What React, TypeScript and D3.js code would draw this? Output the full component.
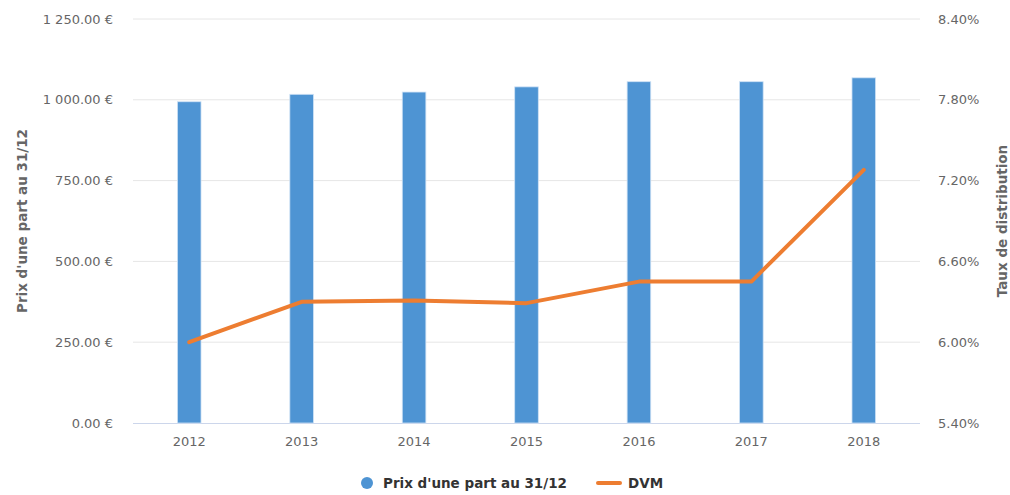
import * as d3 from 'd3';
import React from 'react';

const years = ['2012', '2013', '2014', '2015', '2016', '2017', '2018'];
const prixPart = [994, 1017, 1024, 1040, 1056, 1056, 1068];
const dvm = [6.0, 6.3, 6.31, 6.29, 6.45, 6.45, 7.28];
const leftTicks = [0, 250, 500, 750, 1000, 1250];
const rightTicks = [5.4, 6.0, 6.6, 7.2, 7.8, 8.4];

const W = 1010;
const H = 495;
const margin = { left: 133, right: 90, top: 19, bottom: 72 };

const euro = d3.formatLocale({ decimal: '.', thousands: '\u00a0', grouping: [3], currency: ['', '\u00a0€'] }).format('$,.2f');
const pct = (v: number) => d3.format('.2f')(v) + '%';

const font = "'DejaVu Sans', sans-serif";

export default function App() {
  const x = d3.scaleBand().domain(years).range([margin.left, W - margin.right]).paddingInner(0.79).paddingOuter(0.395);
  const yL = d3.scaleLinear().domain([0, 1250]).range([H - margin.bottom, margin.top]);
  const yR = d3.scaleLinear().domain([5.4, 8.4]).range([H - margin.bottom, margin.top]);
  const band = d3.scaleBand().domain(years).range([margin.left, W - margin.right]);
  const cx = (d: string) => (band(d) as number) + band.bandwidth() / 2;

  const line = d3.line<number>()
    .x((_, i) => cx(years[i]))
    .y(d => yR(d));

  const midY = (margin.top + H - margin.bottom) / 2;

  return (
    <svg width={W} height={H} style={{ position: 'absolute', left: 0, top: 0, fontFamily: font }}>
      <rect width={W} height={H} fill="#fff" />
      {leftTicks.map(t => (
        <g key={t}>
          {t > 0 && <line x1={margin.left} x2={W - margin.right} y1={yL(t)} y2={yL(t)} stroke="#e6e6e6" strokeWidth={1} />}
          <text x={113} y={yL(t)} dy="0.35em" textAnchor="end" fontSize={13} fill="#666">{euro(t)}</text>
        </g>
      ))}
      {rightTicks.map(t => (
        <text key={t} x={938} y={yR(t)} dy="0.35em" textAnchor="start" fontSize={13} fill="#666">{pct(t)}</text>
      ))}
      <line x1={margin.left} x2={W - margin.right} y1={yL(0) + 0.5} y2={yL(0) + 0.5} stroke="#ccd6eb" strokeWidth={1} />
      {years.map((yr, i) => (
        <rect key={yr} x={x(yr)} y={yL(prixPart[i])} width={x.bandwidth()} height={yL(0) - yL(prixPart[i])}
          fill="#4e94d3" stroke="#cfe2f5" strokeWidth={0.8} />
      ))}
      {years.map(yr => (
        <text key={yr} x={cx(yr)} y={446} textAnchor="middle" fontSize={13} fill="#666">{yr}</text>
      ))}
      <path d={line(dvm) as string} fill="none" stroke="#ed7d31" strokeWidth={4} strokeLinejoin="round" strokeLinecap="round" />
      <text transform={`translate(27,${midY}) rotate(-90)`} textAnchor="middle" fontSize={13.5} fontWeight="bold" fill="#666">Prix d'une part au 31/12</text>
      <text transform={`translate(1007,${midY}) rotate(-90)`} textAnchor="middle" fontSize={13.5} fontWeight="bold" fill="#666">Taux de distribution</text>
      <g>
        <circle cx={367} cy={483} r={6} fill="#4e94d3" />
        <text x={383} y={483} dy="0.35em" fontSize={13.5} fontWeight="bold" fill="#333">Prix d'une part au 31/12</text>
        <line x1={598} x2={620} y1={483} y2={483} stroke="#ed7d31" strokeWidth={4} strokeLinecap="round" />
        <text x={628} y={483} dy="0.35em" fontSize={13.5} fontWeight="bold" fill="#333">DVM</text>
      </g>
    </svg>
  );
}
